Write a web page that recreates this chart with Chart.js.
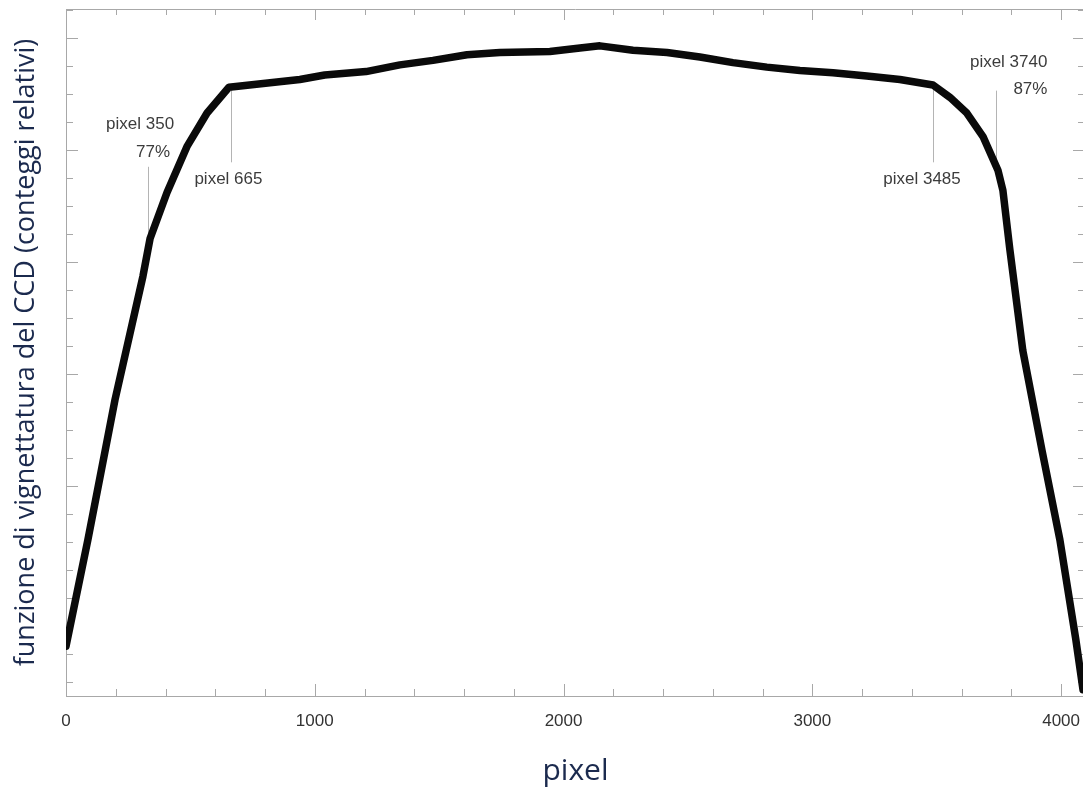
<!DOCTYPE html>
<html>
<head>
<meta charset="utf-8">
<script src="https://cdn.jsdelivr.net/npm/chart.js@4/dist/chart.umd.min.js"></script>
<style>
  html, body { margin: 0; padding: 0; background: #fff; overflow: hidden; }
  #wrap { width: 1092px; height: 789px; }
</style>
</head>
<body>
<div id="wrap"><canvas id="c" width="1092" height="789"></canvas></div>
<script>
// ---- data ----
const pixelPos = [0, 88, 197, 309, 338, 406, 486, 567, 655, 940, 1040, 1206, 1342, 1475, 1612, 1744, 1945, 2066, 2146, 2279, 2416, 2548, 2681, 2817, 2950, 3083, 3219, 3352, 3485, 3553, 3621, 3686, 3746, 3766, 3794, 3846, 3923, 3995, 4059, 4088];
const relCounts = [0.157, 0.252, 0.377, 0.487, 0.521, 0.562, 0.603, 0.633, 0.656, 0.663, 0.667, 0.670, 0.676, 0.680, 0.685, 0.687, 0.688, 0.691, 0.693, 0.689, 0.687, 0.683, 0.678, 0.674, 0.671, 0.669, 0.666, 0.663, 0.658, 0.647, 0.633, 0.612, 0.582, 0.564, 0.511, 0.421, 0.332, 0.252, 0.163, 0.118];

const xTickValues = [0, 1000, 2000, 3000, 4000];
const xTickLabels = ['0', '1000', '2000', '3000', '4000'];
const yMajorTicks = [0.2, 0.3, 0.4, 0.5, 0.6, 0.7];

const annotPixel = [330, 665, 3485, 3740];
const annotLineTop = [0.585, 0.656, 0.658, 0.653];
const annotLineBottom = [0.522, 0.589, 0.589, 0.586];
const annotLabel = ['pixel 350', 'pixel 665', 'pixel 3485', 'pixel 3740'];
const annotPercent = ['77%', '', '', '87%'];

const xTitle = 'pixel';
const yTitle = 'funzione di vignettatura del CCD (conteggi relativi)';

// ---- label placement (pixel offsets from each annotation line) ----
const labelPlacement = [
  { main: { dx: 26, y: 124, align: 'right' }, pct: { dx: 22, y: 152, align: 'right' } },
  { main: { dx: -3, y: 179, align: 'center' } },
  { main: { dx: -11, y: 179, align: 'center' } },
  { main: { dx: 51, y: 62, align: 'right' }, pct: { dx: 51, y: 89, align: 'right' } }
];

const frameColor = '#a8a8a8';

const framePlugin = {
  id: 'framePlugin',
  beforeDatasetsDraw(chart) {
    const { ctx, chartArea: a, scales: { x, y } } = chart;
    ctx.save();
    ctx.strokeStyle = frameColor;
    ctx.lineWidth = 1;
    ctx.beginPath();
    ctx.moveTo(a.left, a.top + 0.5); ctx.lineTo(a.right, a.top + 0.5);
    ctx.moveTo(a.right - 0.5, a.top); ctx.lineTo(a.right - 0.5, a.bottom);
    ctx.stroke();
    ctx.beginPath();
    for (let v = 0; v <= x.max; v += 200) {
      const px = Math.round(x.getPixelForValue(v)) + 0.5;
      const major = v % 1000 === 0;
      ctx.moveTo(px, a.bottom); ctx.lineTo(px, a.bottom - (major ? 12 : 7));
      ctx.moveTo(px, a.top); ctx.lineTo(px, a.top + (major ? 11 : 6));
    }
    const step = (yMajorTicks[1] - yMajorTicks[0]) / 4;
    for (let k = -20; k <= 40; k++) {
      const v = yMajorTicks[0] + k * step;
      if (v < y.min || v > y.max) continue;
      const py = Math.round(y.getPixelForValue(v)) + 0.5;
      const major = ((k % 4) + 4) % 4 === 0;
      ctx.moveTo(a.left, py); ctx.lineTo(a.left + (major ? 12 : 7), py);
      ctx.moveTo(a.right, py); ctx.lineTo(a.right - (major ? 12 : 7), py);
    }
    ctx.stroke();
    ctx.strokeStyle = '#b4b4b4';
    ctx.beginPath();
    annotPixel.forEach((p, i) => {
      const px = Math.round(x.getPixelForValue(p)) + 0.5;
      ctx.moveTo(px, y.getPixelForValue(annotLineTop[i]));
      ctx.lineTo(px, y.getPixelForValue(annotLineBottom[i]));
    });
    ctx.stroke();
    ctx.restore();
  },
  afterDatasetsDraw(chart) {
    const { ctx, scales: { x } } = chart;
    ctx.save();
    ctx.fillStyle = '#3c3c3c';
    ctx.font = '17px "Liberation Sans", Arial, sans-serif';
    ctx.textBaseline = 'middle';
    annotPixel.forEach((p, i) => {
      const px = x.getPixelForValue(p);
      const pl = labelPlacement[i];
      ctx.textAlign = pl.main.align;
      ctx.fillText(annotLabel[i], px + pl.main.dx, pl.main.y);
      if (annotPercent[i] && pl.pct) {
        ctx.textAlign = pl.pct.align;
        ctx.fillText(annotPercent[i], px + pl.pct.dx, pl.pct.y);
      }
    });
    ctx.restore();
  }
};

new Chart(document.getElementById('c'), {
  type: 'scatter',
  data: {
    datasets: [{
      data: pixelPos.map((p, i) => ({ x: p, y: relCounts[i] })),
      showLine: true,
      borderColor: '#0a0a0a',
      backgroundColor: '#0a0a0a',
      borderWidth: 7.5,
      pointRadius: 0,
      tension: 0,
      borderJoinStyle: 'round',
      borderCapStyle: 'round'
    }]
  },
  options: {
    responsive: false,
    animation: false,
    devicePixelRatio: 1,
    layout: { padding: { top: 9, right: 7, left: 0, bottom: 0 } },
    plugins: { legend: { display: false }, tooltip: { enabled: false } },
    scales: {
      x: {
        type: 'linear',
        min: 0,
        max: 4096,
        afterBuildTicks: s => { s.ticks = xTickValues.map(v => ({ value: v })); },
        afterFit: s => { s.height = 93; s.paddingLeft = 0; s.paddingRight = 0; },
        grid: { display: false, drawTicks: false },
        border: { display: true, color: frameColor, width: 1 },
        ticks: {
          color: '#333',
          font: { family: '"Liberation Sans", Arial, sans-serif', size: 17 },
          padding: 15,
          maxRotation: 0,
          callback: (v) => xTickLabels[xTickValues.indexOf(v)]
        },
        title: {
          display: true,
          text: xTitle,
          color: '#1b2a4e',
          font: { family: '"Open Sans", sans-serif', size: 30 },
          padding: { top: 0, bottom: 0 }
        }
      },
      y: {
        type: 'linear',
        min: 0.1125,
        max: 0.7259,
        afterFit: s => { s.width = 66; s.paddingTop = 0; s.paddingBottom = 0; },
        grid: { display: false, drawTicks: false },
        border: { display: true, color: frameColor, width: 1 },
        ticks: { display: false },
        title: {
          display: true,
          text: yTitle,
          color: '#1b2a4e',
          font: { family: '"Open Sans", sans-serif', size: 27 },
          padding: { top: 10, bottom: 0 }
        }
      }
    }
  },
  plugins: [framePlugin]
});
</script>
</body>
</html>
